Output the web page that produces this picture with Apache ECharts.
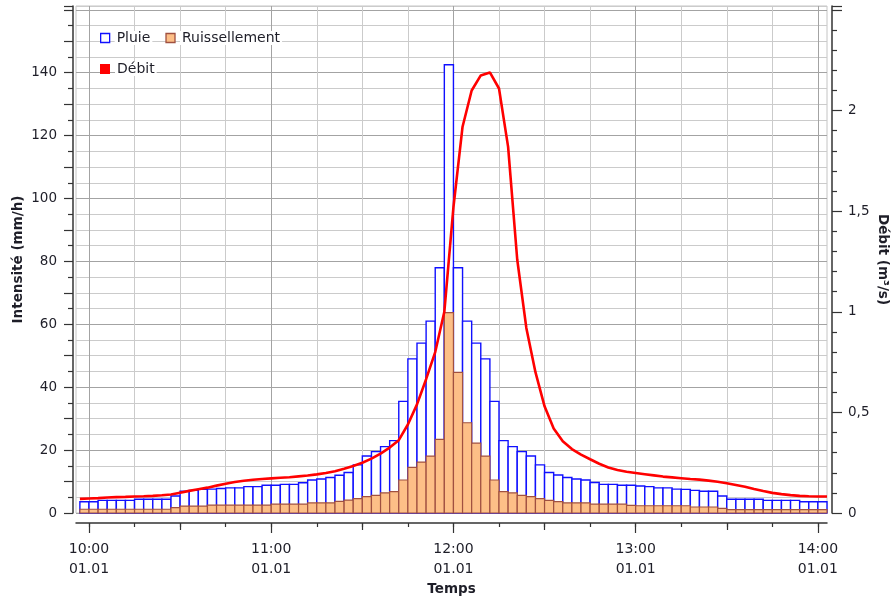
<!DOCTYPE html>
<html>
<head>
<meta charset="utf-8">
<script src="https://cdn.jsdelivr.net/npm/echarts@6/dist/echarts.min.js"></script>
<style>html,body{margin:0;padding:0;background:#fff}#c{width:896px;height:597px}</style>
</head>
<body>
<div id="c"></div>
<script>
// Time: minutes relative to 10:00 (01.01). Bars are 3-minute blocks ending at barEnd.
const STEP = 3;
const FIRST_END = 0;           // first block 09:57-10:00
const hourTicks = [0, 60, 120, 180, 240];
const halfHourTicks = [30, 90, 150, 210];
const quarterTicks = [0, 15, 30, 45, 60, 75, 90, 105, 120, 135, 150, 165, 180, 195, 210, 225, 240];
const hourLabels = ['10:00\n01.01', '11:00\n01.01', '12:00\n01.01', '13:00\n01.01', '14:00\n01.01'];

// Pluie (mm/h), 82 blocks
const pluie = [3.6, 3.6, 4.0, 4.0, 4.0, 4.0, 4.35, 4.35, 4.35, 4.35,
  5.4, 6.9, 7.2, 7.5, 7.6, 7.8, 8.0, 8.0, 8.4, 8.4,
  8.8, 8.8, 9.1, 9.1, 9.6, 10.5, 10.8, 11.3, 12.0, 12.9,
  15.3, 18.1, 19.5, 21.1, 23.0, 35.5, 49, 54, 61, 78,
  142.5, 78, 61, 54, 49, 35.5, 23.0, 21.1, 19.5, 18.1,
  15.3, 12.9, 12.1, 11.3, 10.8, 10.5, 9.7, 9.1, 9.1, 8.8,
  8.8, 8.6, 8.4, 8.0, 8.0, 7.6, 7.5, 7.2, 6.9, 6.9,
  5.4, 4.35, 4.35, 4.35, 4.35, 4.0, 4.0, 4.0, 4.0, 3.6,
  3.6, 3.6];
// Ruissellement (mm/h), 82 blocks
const ruissellement = [1.2, 1.2, 1.2, 1.2, 1.2, 1.2, 1.2, 1.2, 1.2, 1.2,
  1.7, 2.2, 2.2, 2.2, 2.5, 2.5, 2.5, 2.5, 2.5, 2.5,
  2.5, 2.8, 2.8, 2.8, 2.8, 3.2, 3.2, 3.2, 3.7, 4.1,
  4.6, 5.2, 5.6, 6.4, 6.8, 10.5, 14.5, 16.2, 18.1, 23.4,
  63.7, 44.7, 28.7, 22.2, 18.1, 10.5, 6.8, 6.4, 5.6, 5.2,
  4.6, 4.0, 3.6, 3.2, 3.2, 3.2, 2.8, 2.8, 2.8, 2.8,
  2.4, 2.3, 2.3, 2.3, 2.3, 2.3, 2.3, 1.9, 1.9, 1.9,
  1.5, 1.05, 1.05, 1.05, 1.05, 1.05, 1.05, 1.05, 1.05, 1.05,
  1.05, 1.05];
// Débit (m3/s) every 3 minutes from 09:57 (t = -3) to 14:03 (t = 243)
const DEBIT_START = -3;
const debit = [0.070, 0.072, 0.074, 0.077, 0.079, 0.080, 0.082, 0.083, 0.085, 0.088,
  0.092, 0.101, 0.110, 0.118, 0.126, 0.136, 0.145, 0.154, 0.160, 0.165,
  0.169, 0.172, 0.175, 0.178, 0.182, 0.186, 0.192, 0.199, 0.208, 0.220,
  0.234, 0.250, 0.270, 0.295, 0.325, 0.362, 0.44, 0.54, 0.665, 0.80,
  1.00, 1.52, 1.92, 2.10, 2.175, 2.19, 2.11, 1.82, 1.26, 0.92,
  0.70, 0.53, 0.42, 0.357, 0.318, 0.29, 0.267, 0.245, 0.226, 0.214,
  0.205, 0.199, 0.193, 0.187, 0.181, 0.177, 0.173, 0.169, 0.166, 0.161,
  0.155, 0.148, 0.139, 0.130, 0.119, 0.109, 0.100, 0.094, 0.089, 0.085,
  0.083, 0.082, 0.082];

const barData = (arr) => arr.map((v, i) => [FIRST_END + i * STEP, v]);
const debitData = debit.map((v, i) => [DEBIT_START + i * STEP, v]);

const FONT = 'DejaVu Sans';
const TXT = '#1e1e28';
const AX = '#333';
const G_DARK = '#a3a3a3';
const G_LIGHT = '#cbcbcb';

function blockRender(fill, stroke, lw) {
  return function (params, api) {
    const end = api.value(0), v = api.value(1);
    const a = api.coord([end - STEP, v]);
    const b = api.coord([end, 0]);
    return {
      type: 'rect',
      shape: { x: a[0], y: a[1], width: b[0] - a[0], height: b[1] - a[1] },
      style: { fill: fill, stroke: stroke, lineWidth: lw }
    };
  };
}

const xCommon = { type: 'value', min: -4.28, max: 243, position: 'bottom', offset: 10 };

const chart = echarts.init(document.getElementById('c'), null, { renderer: 'canvas' });
chart.setOption({
  animation: false,
  backgroundColor: '#fff',
  grid: {
    left: 76, right: 69, top: 6, bottom: 84, containLabel: false, outerBoundsMode: 'none',
    show: true, borderColor: '#c4c4c4', borderWidth: 1, backgroundColor: '#fff'
  },
  legend: [
    {
      left: 95, top: 26, itemWidth: 9, itemHeight: 9, itemGap: 13, orient: 'horizontal',
      textStyle: { fontFamily: FONT, fontSize: 14, color: TXT, backgroundColor: '#fff', padding: [0, 2] },
      data: [
        { name: 'Pluie', icon: 'rect', itemStyle: { color: '#fff', borderColor: '#1010ff', borderWidth: 1.3 } },
        { name: 'Ruissellement', icon: 'rect', itemStyle: { color: '#fdbf87', borderColor: '#a05040', borderWidth: 1.3 } }
      ]
    },
    {
      left: 95, top: 57, itemWidth: 10, itemHeight: 10,
      textStyle: { fontFamily: FONT, fontSize: 14, color: TXT, backgroundColor: '#fff', padding: [0, 2] },
      data: [{ name: 'Débit', icon: 'rect', itemStyle: { color: '#ff0000' } }]
    }
  ],
  xAxis: [
    Object.assign({}, xCommon, {
      axisLine: { show: true, onZero: false, lineStyle: { color: AX, width: 1.5 } },
      axisTick: { show: true, length: 4, customValues: quarterTicks, lineStyle: { color: AX, width: 1.2 } },
      axisLabel: { show: false },
      splitLine: { show: true, lineStyle: { color: [G_DARK, G_LIGHT, G_LIGHT, G_LIGHT], width: 1 } }
    }),
    Object.assign({}, xCommon, {
      axisLine: { show: false, onZero: false },
      axisTick: { show: true, length: 7, customValues: halfHourTicks, lineStyle: { color: AX, width: 1.2 } },
      axisLabel: { show: false },
      splitLine: { show: false }
    }),
    Object.assign({}, xCommon, {
      axisLine: { show: false, onZero: false },
      axisTick: { show: true, length: 10, customValues: hourTicks, lineStyle: { color: AX, width: 1.2 } },
      axisLabel: {
        show: true, customValues: hourTicks, margin: 16, lineHeight: 20,
        fontFamily: FONT, fontSize: 14, color: TXT,
        formatter: (v) => hourLabels[hourTicks.indexOf(Math.round(v))] || ''
      },
      splitLine: { show: false },
      name: 'Temps', nameLocation: 'middle', nameGap: 59, nameMoveOverlap: false,
      nameTextStyle: { fontFamily: FONT, fontSize: 13.5, fontWeight: 'bold', color: TXT }
    })
  ],
  yAxis: [
    {
      type: 'value', position: 'left', offset: 3, min: 0, max: 161.2, interval: 10,
      axisLine: { show: true, onZero: false, lineStyle: { color: AX, width: 1.5 } },
      axisTick: { show: true, length: 9, lineStyle: { color: AX, width: 1.2 } },
      minorTick: { show: true, splitNumber: 2, length: 5, lineStyle: { color: AX, width: 1.2 } },
      axisLabel: {
        margin: 16, fontFamily: FONT, fontSize: 13.5, color: TXT, showMaxLabel: false,
        formatter: (v) => (Math.round(v) % 20 === 0 && v <= 140 ? String(v) : '')
      },
      splitLine: { show: true, lineStyle: { color: [G_DARK, G_LIGHT], width: 1 } },
      minorSplitLine: { show: true, lineStyle: { color: G_LIGHT, width: 1 } },
      name: 'Intensité (mm/h)', nameLocation: 'middle', nameGap: 48, nameMoveOverlap: false,
      nameTextStyle: { fontFamily: FONT, fontSize: 13.5, fontWeight: 'bold', color: TXT }
    },
    {
      type: 'value', position: 'right', offset: 5, min: 0, max: 2.52, interval: 0.5,
      axisLine: { show: true, onZero: false, lineStyle: { color: AX, width: 1.5 } },
      axisTick: { show: true, length: 10, lineStyle: { color: AX, width: 1.2 } },
      minorTick: { show: true, splitNumber: 5, length: 5, lineStyle: { color: AX, width: 1.2 } },
      axisLabel: {
        margin: 16, fontFamily: FONT, fontSize: 13.5, color: TXT, showMaxLabel: false,
        formatter: (v) => (v <= 2 ? String(v).replace('.', ',') : '')
      },
      splitLine: { show: false },
      name: 'Débit (m³/s)', nameLocation: 'middle', nameGap: 43, nameRotate: -90, nameMoveOverlap: false,
      nameTextStyle: { fontFamily: FONT, fontSize: 13.5, fontWeight: 'bold', color: TXT }
    }
  ],
  series: [
    {
      name: 'Pluie', type: 'custom', xAxisIndex: 0, yAxisIndex: 0,
      itemStyle: { color: '#fff', borderColor: '#1010ff' },
      renderItem: blockRender('#fff', '#1010ff', 1.4),
      encode: { x: 0, y: 1 }, data: barData(pluie), z: 2
    },
    {
      name: 'Ruissellement', type: 'custom', xAxisIndex: 0, yAxisIndex: 0,
      itemStyle: { color: '#fdbf87', borderColor: '#a05040' },
      renderItem: blockRender('#fdbf87', '#a05040', 1.2),
      encode: { x: 0, y: 1 }, data: barData(ruissellement), z: 3
    },
    {
      name: 'Débit', type: 'line', xAxisIndex: 0, yAxisIndex: 1,
      data: debitData, showSymbol: false, smooth: false,
      lineStyle: { color: '#ff0000', width: 2.6 }, itemStyle: { color: '#ff0000' }, z: 4
    }
  ]
});
</script>
</body>
</html>
